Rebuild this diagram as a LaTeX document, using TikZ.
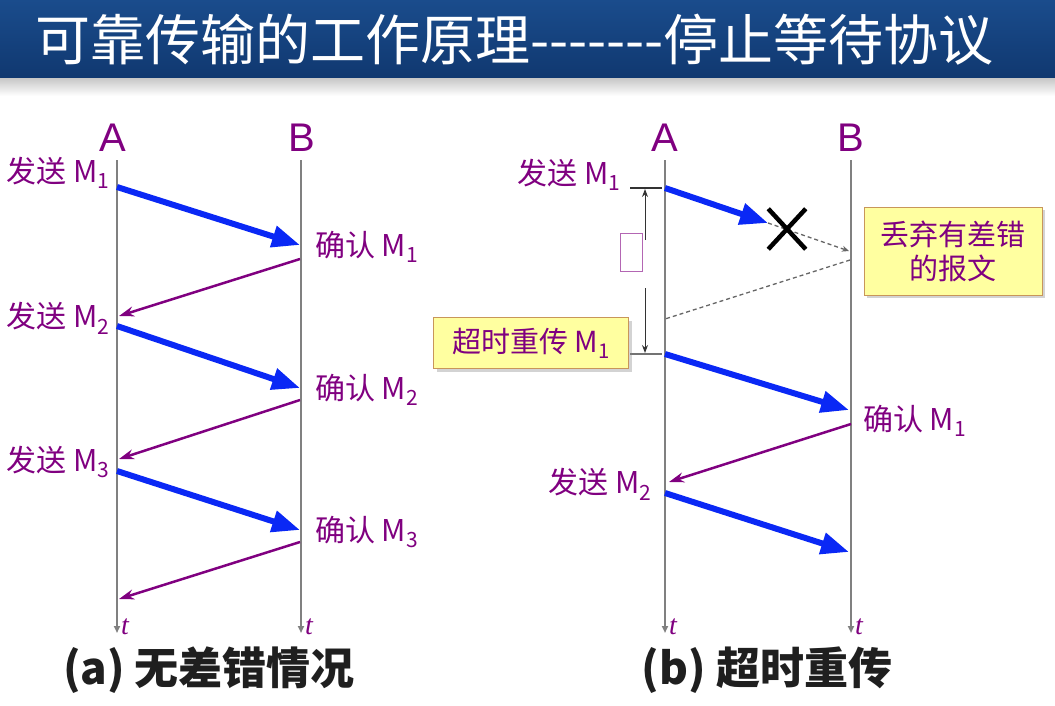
\documentclass[tikz,border=0pt]{standalone}
\usepackage{fontspec}
\usepackage{xcolor}
\usepackage{tikz}
\usetikzlibrary{arrows.meta, positioning, shadows, shapes.misc}
\setmainfont{Liberation Sans}
\newfontfamily\cjk{Noto Sans CJK SC}
\newfontfamily\timesit{Liberation Serif}
\definecolor{titlebar}{RGB}{26,76,140}
\definecolor{titledark}{RGB}{16,56,112}
\definecolor{msgblue}{RGB}{10,40,245}
\definecolor{ackpurple}{RGB}{128,0,128}
\definecolor{axisgray}{RGB}{128,128,128}
\definecolor{notefill}{RGB}{255,255,160}
\definecolor{noteborder}{RGB}{200,150,90}
\tikzset{
  station/.style={font=\fontsize{40}{44}\selectfont, text=ackpurple, inner sep=0pt},
  event/.style={font=\cjk\fontsize{30}{34}\selectfont, text=ackpurple, inner sep=0pt},
  tlabel/.style={font=\timesit\itshape\fontsize{28}{30}\selectfont, text=ackpurple, inner sep=0pt},
  timeline/.style={draw=axisgray, line width=2pt, -{Triangle[length=7pt,width=6pt]}},
  msg/.style={draw=msgblue, line width=6pt, -{Triangle[length=28pt,width=21pt]}},
  ack/.style={draw=ackpurple, line width=2.5pt, -{Stealth[length=15pt,width=10pt]}},
  note/.style={
    draw=noteborder, line width=1pt, fill=notefill, text=ackpurple,
    font=\cjk\fontsize{29}{34}\selectfont, align=center,
    drop shadow={opacity=0.35, shadow xshift=3pt, shadow yshift=-3pt}
  },
}

\begin{document}
\begin{tikzpicture}[x=1pt, y=-1pt,
  capt/.style={font=\cjk\bfseries\fontsize{44}{48}\selectfont, text=black!88},
  lost/.style={draw=black!60, line width=1.3pt, dash pattern=on 4pt off 3pt},
  timer/.style={draw=black!80, line width=1pt}
]
  \useasboundingbox (0,0) rectangle (1055,705);
  \shade[top color=titlebar, bottom color=titledark] (0,0) rectangle (1055,78);
  \shade[top color=black!22, bottom color=white] (0,78) rectangle (1055,96);
  \node[anchor=west, inner sep=0pt, text=white, font=\cjk\fontsize{55}{60}\selectfont] (title) at (35,40)
    {可靠传输的工作原理-{}-{}-{}-{}-{}-{}-停止等待协议};

  \node[station] (A1) at (113,138) {A};
  \node[station] (B1) at (302,138) {B};
  \coordinate (A1top) at (117,160); \coordinate (A1bot) at (117,633);
  \coordinate (B1top) at (301,160); \coordinate (B1bot) at (301,633);
  \draw[timeline] (A1top) -- (A1bot) node[tlabel, anchor=west, xshift=3pt, yshift=6pt] (tA1) {t};
  \draw[timeline] (B1top) -- (B1bot) node[tlabel, anchor=west, xshift=3pt, yshift=6pt] (tB1) {t};

  \coordinate (a1) at (117,187); \coordinate (b1) at (300,245);
  \coordinate (b1r) at (300,259); \coordinate (a2) at (119,316);
  \coordinate (a2s) at (117,326); \coordinate (b2) at (300,388);
  \coordinate (b2r) at (300,400); \coordinate (a3) at (119,459);
  \coordinate (a3s) at (117,471); \coordinate (b3) at (300,530);
  \coordinate (b3r) at (300,542); \coordinate (a4) at (119,599);
  \draw[msg] (a1) -- (b1);
  \draw[ack] (b1r) -- (a2);
  \draw[msg] (a2s) -- (b2);
  \draw[ack] (b2r) -- (a3);
  \draw[msg] (a3s) -- (b3);
  \draw[ack] (b3r) -- (a4);
  \node[event, anchor=east] (s1) at (110,173) {发送 M\textsubscript{1}};
  \node[event, anchor=west] (k1) at (315,247) {确认 M\textsubscript{1}};
  \node[event, anchor=east] (s2) at (110,318) {发送 M\textsubscript{2}};
  \node[event, anchor=west] (k2) at (315,390) {确认 M\textsubscript{2}};
  \node[event, anchor=east] (s3) at (110,462) {发送 M\textsubscript{3}};
  \node[event, anchor=west] (k3) at (315,532) {确认 M\textsubscript{3}};
  \node[capt] (capa) at (209,670) {(a) 无差错情况};

  \node[station] (A2) at (665,138) {A};
  \node[station] (B2) at (851,138) {B};
  \coordinate (A2top) at (665,160); \coordinate (A2bot) at (665,633);
  \coordinate (B2top) at (851,160); \coordinate (B2bot) at (851,633);
  \draw[timeline] (A2top) -- (A2bot) node[tlabel, anchor=west, xshift=3pt, yshift=6pt] (tA2) {t};
  \draw[timeline] (B2top) -- (B2bot) node[tlabel, anchor=west, xshift=3pt, yshift=6pt] (tB2) {t};

  \coordinate (ra1) at (665,188); \coordinate (rx) at (768,223);
  \coordinate (lostB) at (849,251); \coordinate (lostB2) at (850,260);
  \coordinate (lostA) at (665,319);
  \draw[msg] (ra1) -- (rx);
  \draw[lost, -{Stealth[length=7pt,width=6pt]}] (rx) -- (lostB);
  \draw[lost] (lostB2) -- (lostA);
  \node[draw, cross out, line width=4.5pt, minimum width=33pt, minimum height=36pt, inner sep=0pt] (drop) at (787,229) {};

  \coordinate (ra2) at (665,354); \coordinate (rb1) at (849,410);
  \coordinate (rb1r) at (851,424); \coordinate (ra3) at (669,482);
  \coordinate (ra3s) at (665,493); \coordinate (rb2) at (849,552);
  \draw[msg] (ra2) -- (rb1);
  \draw[ack] (rb1r) -- (ra3);
  \draw[msg] (ra3s) -- (rb2);

  \coordinate (tmtop) at (645,189); \coordinate (tmbot) at (645,353);
  \draw[timer, line width=1.5pt] (630,188) -- (662,188);
  \draw[timer, draw=black!55, line width=2pt] (630,354) -- (662,354);
  \draw[timer, -{Stealth[length=8pt,width=6pt]}] (645,240) -- (tmtop);
  \draw[timer, -{Stealth[length=8pt,width=6pt]}] (645,288) -- (tmbot);
  \node[draw=ackpurple!60, line width=1pt, minimum width=22pt, minimum height=38pt, inner sep=0pt] (clock) at (631,252) {};

  \node[note, minimum width=195pt, minimum height=51pt] (retx) at (531,343) {超时重传 M\textsubscript{1}};
  \node[note, minimum width=178pt, minimum height=88pt] (discard) at (953,251) {丢弃有差错\\的报文};
  \node[event, anchor=east] (rs1) at (621,175) {发送 M\textsubscript{1}};
  \node[event, anchor=west] (rk1) at (863,421) {确认 M\textsubscript{1}};
  \node[event, anchor=east] (rs2) at (652,484) {发送 M\textsubscript{2}};
  \node[capt] (capb) at (767,670) {(b) 超时重传};
\end{tikzpicture}
\end{document}
